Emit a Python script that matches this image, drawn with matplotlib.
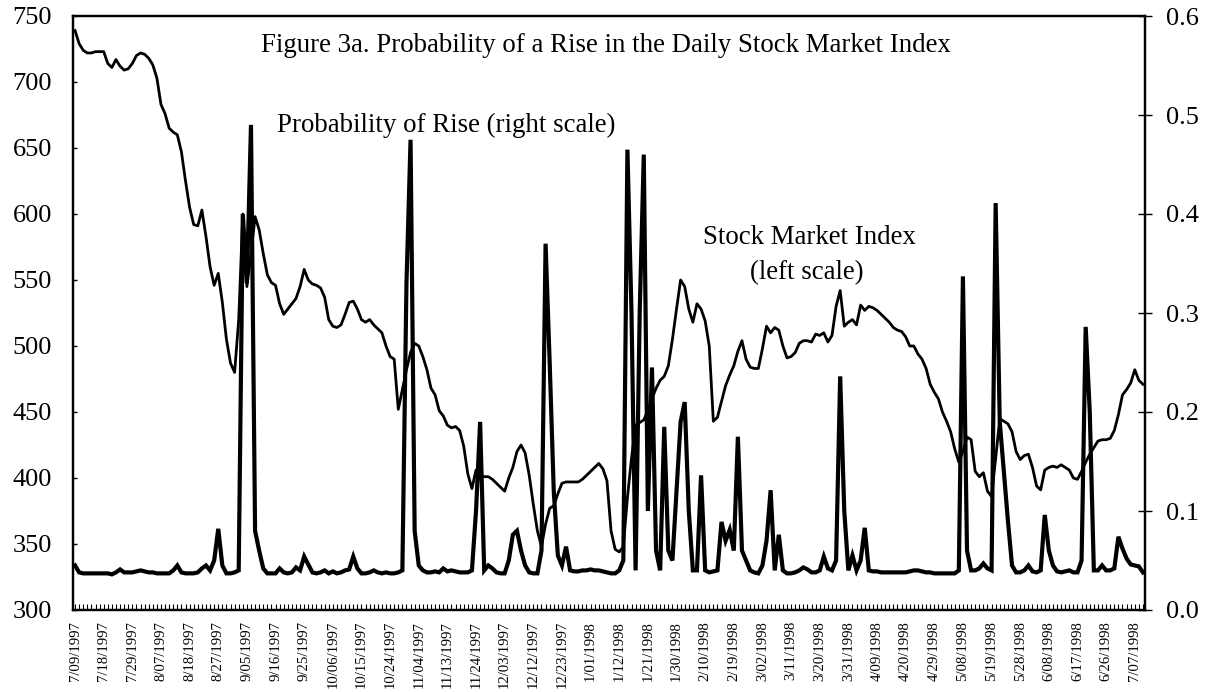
import matplotlib
matplotlib.use("Agg")
import matplotlib.pyplot as plt
import pandas as pd

# trading days, 7/09/1997 onwards (weekdays)
start_date = "1997-07-09"
n_days = 262
label_every = 7

# stock market index (left scale)
index_vals = [
    739, 729, 724, 722, 722, 723, 723, 723, 714, 711,
    717, 712, 709, 710, 714, 720, 722, 721, 718, 713,
    703, 683, 676, 665, 662, 660, 647, 625, 605, 592,
    591, 603, 583, 560, 546, 555, 533, 505, 487, 480,
    520, 600, 545, 570, 598, 588, 570, 554, 548, 546,
    532, 524, 528, 532, 536, 545, 558, 550, 547, 546,
    544, 537, 520, 515, 514, 516, 524, 533, 534, 528,
    520, 518, 520, 516, 513, 510, 500, 492, 490, 452,
    467, 482, 495, 502, 500, 492, 482, 468, 463, 451,
    447, 440, 438, 439, 436, 424, 403, 392, 406, 402,
    401, 401, 399, 396, 393, 390, 400, 408, 420, 425,
    419, 402, 380, 360, 348, 365, 377, 379, 388, 396,
    397, 397, 397, 397, 399, 402, 405, 408, 411, 407,
    398, 360, 346, 344, 348, 385, 415, 440, 442, 444,
    451, 460, 468, 474, 477, 485, 505, 528, 550, 545,
    528, 518, 532, 528, 519, 500, 443, 446, 458, 470,
    478, 485, 496, 504, 490, 484, 483, 483, 498, 515,
    510, 514, 512, 500, 491, 492, 495, 502, 504, 504,
    503, 509, 508, 510, 503, 508, 530, 542, 515, 518,
    520, 516, 531, 527, 530, 529, 527, 524, 521, 518,
    514, 512, 511, 507, 500, 500, 494, 490, 483, 471,
    465, 460, 450, 443, 435, 422, 412, 420, 431, 429,
    405, 401, 404, 390, 386, 415, 445, 443, 441, 435,
    420, 414, 417, 418, 408, 394, 391, 406, 408, 409,
    408, 410, 408, 406, 400, 399, 405, 412, 418, 423,
    428, 429, 429, 430, 436, 448, 463, 467, 472, 482,
    474, 471,
]

# probability of a rise (right scale)
prob_vals = [
    0.045, 0.038, 0.037, 0.037, 0.037, 0.037, 0.037, 0.037, 0.037, 0.036,
    0.038, 0.041, 0.038, 0.038, 0.038, 0.039, 0.040, 0.039, 0.038, 0.038,
    0.037, 0.037, 0.037, 0.037, 0.040, 0.045, 0.038, 0.037, 0.037, 0.037,
    0.038, 0.042, 0.045, 0.040, 0.050, 0.082, 0.045, 0.037, 0.037, 0.038,
    0.040, 0.400, 0.330, 0.490, 0.080, 0.060, 0.042, 0.037, 0.037, 0.037,
    0.042, 0.038, 0.037, 0.038, 0.043, 0.040, 0.054, 0.046, 0.038, 0.037,
    0.038, 0.040, 0.037, 0.039, 0.037, 0.038, 0.040, 0.041, 0.054, 0.042,
    0.037, 0.037, 0.038, 0.040, 0.038, 0.037, 0.038, 0.037, 0.037, 0.038,
    0.040, 0.330, 0.475, 0.080, 0.045, 0.040, 0.038, 0.038, 0.039, 0.038,
    0.042, 0.039, 0.040, 0.039, 0.038, 0.038, 0.038, 0.040, 0.100, 0.190,
    0.040, 0.045, 0.042, 0.038, 0.037, 0.037, 0.050, 0.076, 0.080, 0.060,
    0.045, 0.038, 0.037, 0.037, 0.060, 0.370, 0.250, 0.120, 0.055, 0.045,
    0.064, 0.040, 0.039, 0.039, 0.040, 0.040, 0.041, 0.040, 0.040, 0.039,
    0.038, 0.037, 0.037, 0.040, 0.050, 0.465, 0.300, 0.040, 0.300, 0.460,
    0.100, 0.245, 0.060, 0.040, 0.185, 0.060, 0.050, 0.120, 0.190, 0.210,
    0.100, 0.040, 0.040, 0.136, 0.040, 0.038, 0.039, 0.040, 0.089, 0.070,
    0.081, 0.060, 0.175, 0.060, 0.050, 0.040, 0.038, 0.037, 0.045, 0.070,
    0.121, 0.040, 0.076, 0.040, 0.037, 0.037, 0.038, 0.040, 0.043, 0.041,
    0.038, 0.038, 0.040, 0.054, 0.042, 0.040, 0.050, 0.236, 0.100, 0.040,
    0.055, 0.040, 0.050, 0.083, 0.040, 0.039, 0.039, 0.038, 0.038, 0.038,
    0.038, 0.038, 0.038, 0.038, 0.039, 0.040, 0.040, 0.039, 0.038, 0.038,
    0.037, 0.037, 0.037, 0.037, 0.037, 0.037, 0.040, 0.337, 0.060, 0.040,
    0.040, 0.042, 0.047, 0.042, 0.040, 0.411, 0.190, 0.140, 0.090, 0.045,
    0.038, 0.038, 0.040, 0.045, 0.039, 0.038, 0.040, 0.096, 0.060, 0.045,
    0.039, 0.038, 0.039, 0.040, 0.038, 0.038, 0.050, 0.286, 0.200, 0.040,
    0.040, 0.045, 0.040, 0.040, 0.042, 0.074, 0.062, 0.052, 0.046, 0.045,
    0.044, 0.038,
]

dates = pd.bdate_range(start_date, periods=n_days)
date_labels = [f"{d.month}/{d.day:02d}/{d.year}" for d in dates]

plt.rcParams['font.family'] = ['Liberation Serif', 'DejaVu Serif']

W, H = 1211, 692
fig = plt.figure(figsize=(W / 100, H / 100), dpi=100)
ax = fig.add_axes([73 / W, 1 - 610 / H, (1145 - 73) / W, (610 - 16) / H])
ax2 = ax.twinx()

x = list(range(n_days))
ax2.plot(x, prob_vals, color='black', lw=3.0, solid_joinstyle='miter')
ax.plot(x, index_vals, color='black', lw=2.0)

ax.set_xlim(-0.5, n_days - 0.5)
ax.set_ylim(300, 750)
ax2.set_ylim(0.0, 0.6)
ax.set_yticks(range(300, 751, 50))
ax2.set_yticks([0.0, 0.1, 0.2, 0.3, 0.4, 0.5, 0.6])
ax2.set_yticklabels([f"{v:.1f}" for v in [0.0, 0.1, 0.2, 0.3, 0.4, 0.5, 0.6]])

ax.set_xticks(x)
ax.set_xticklabels([lab if i % label_every == 0 else '' for i, lab in enumerate(date_labels)],
                   rotation=90, fontsize=10.6)
ax.tick_params(axis='x', direction='in', length=4, width=0.8, pad=8)
ax.tick_params(axis='y', direction='in', length=3, width=1, labelsize=19, pad=15)
ax2.tick_params(axis='y', direction='inout', length=10, width=1, labelsize=19, pad=10)

for a in (ax, ax2):
    for s in a.spines.values():
        s.set_linewidth(1.6)
        s.set_color('black')

fig.text(606 / W, 1 - 46 / H, "Figure 3a. Probability of a Rise in the Daily Stock Market Index",
         ha='center', va='center', fontsize=19.4)
fig.text(446 / W, 1 - 125 / H, "Probability of Rise (right scale)",
         ha='center', va='center', fontsize=19.4)
fig.text(809 / W, 1 - 238 / H, "Stock Market Index",
         ha='center', va='center', fontsize=19.4)
fig.text(807 / W, 1 - 273 / H, "(left scale)",
         ha='center', va='center', fontsize=19.4)

fig.savefig("out.png", dpi=100)
